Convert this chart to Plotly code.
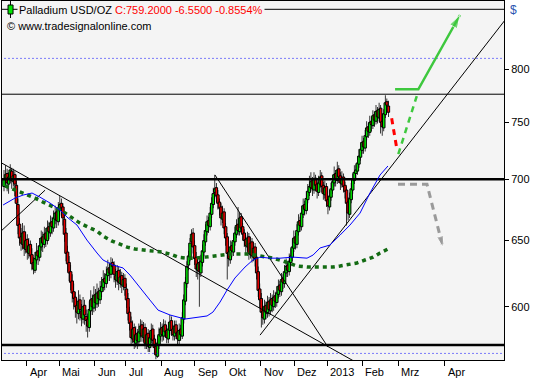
import math
import plotly.graph_objects as go

# ---------------- data ----------------
open_ = [
    694, 701, 705, 696, 701, 707, 698, 704, 695, 679,
    663, 653, 647, 657, 643, 651, 640, 647, 639, 633,
    627, 635, 642, 637, 645, 653, 647, 656, 650, 661,
    656, 665, 660, 667, 673, 665, 674, 680, 677, 667,
    656, 641, 633, 626, 619, 611, 607, 601, 595, 605,
    597, 591, 601, 593, 591, 585, 597, 606, 599, 609,
    602, 611, 605, 611, 614, 621, 617, 623, 629, 624,
    633, 631, 623, 619, 627, 617, 623, 615, 621, 613,
    606, 596, 589, 577, 585, 574, 581, 575, 581, 587,
    578, 585, 573, 581, 571, 577, 584, 577, 572, 565,
    573, 579, 585, 579, 587, 583, 577, 583, 590, 584,
    579, 587, 582, 576, 584, 579, 591, 604, 617, 631,
    637, 649, 656, 646, 637, 627, 633, 625, 633, 641,
    649, 657, 666, 661, 671, 679, 689, 693, 687, 681,
    677, 667, 673, 661, 653, 641, 635, 646, 641, 649,
    655, 663, 657, 669, 661, 656, 651, 645, 653, 639,
    649, 637, 645, 637, 626, 613, 606, 597, 591, 601,
    595, 604, 597, 606, 600, 608, 603, 609, 616, 611,
    621, 617, 625, 631, 626, 633, 637, 644, 653, 647,
    657, 666, 661, 671, 679, 674, 683, 689, 693, 699,
    691, 701, 696, 689, 696, 703, 695, 687, 694, 683,
    677, 685, 691, 697, 705, 699, 709, 703, 696, 702,
    695, 691, 681, 671, 683, 691, 699, 705, 707, 713,
    719, 725, 733, 727, 737, 746, 741, 751, 747, 757,
    751, 761, 754, 763, 751, 745, 757, 769, 765,
]
high_ = [
    708, 712, 709, 706, 713, 710, 709, 707, 699, 684,
    668, 660, 664, 662, 657, 655, 652, 650, 644, 637,
    641, 648, 646, 652, 658, 657, 661, 660, 666, 665,
    670, 669, 674, 678, 677, 681, 686, 684, 680, 671,
    660, 646, 638, 631, 624, 617, 611, 606, 612, 609,
    602, 607, 605, 598, 595, 604, 612, 609, 615, 613,
    617, 614, 619, 622, 627, 625, 630, 635, 633, 637,
    636, 634, 628, 631, 630, 628, 626, 625, 624, 617,
    610, 600, 593, 590, 588, 586, 584, 588, 591, 590,
    589, 588, 585, 584, 583, 588, 587, 580, 575, 579,
    585, 589, 588, 591, 590, 586, 589, 594, 593, 587,
    590, 590, 585, 588, 587, 596, 609, 622, 634, 642,
    652, 659, 660, 650, 641, 637, 636, 639, 647, 655,
    663, 670, 669, 677, 685, 693, 704, 697, 691, 684,
    680, 678, 676, 664, 656, 645, 650, 649, 655, 661,
    667, 677, 672, 672, 664, 659, 654, 657, 656, 653,
    652, 649, 648, 640, 630, 617, 610, 601, 605, 604,
    608, 607, 610, 609, 612, 611, 615, 620, 619, 625,
    624, 631, 636, 634, 640, 644, 651, 658, 656, 663,
    671, 669, 678, 684, 682, 690, 696, 703, 706, 702,
    706, 704, 699, 703, 708, 706, 698, 699, 697, 686,
    691, 697, 704, 711, 708, 715, 712, 706, 707, 705,
    698, 694, 685, 689, 697, 705, 712, 713, 720, 726,
    732, 738, 736, 743, 751, 749, 756, 755, 761, 760,
    766, 764, 768, 766, 755, 762, 775, 772, 770,
]
low_ = [
    690, 695, 690, 688, 697, 692, 694, 686, 675, 655,
    646, 642, 643, 638, 640, 635, 636, 632, 627, 624,
    625, 632, 631, 634, 642, 641, 644, 645, 647, 651,
    653, 655, 657, 663, 660, 662, 670, 669, 662, 649,
    634, 626, 619, 612, 603, 598, 592, 588, 591, 590,
    586, 588, 587, 582, 578, 582, 594, 594, 596, 597,
    599, 600, 602, 607, 611, 612, 614, 619, 619, 621,
    624, 618, 614, 616, 612, 614, 610, 612, 608, 599,
    590, 583, 573, 574, 570, 571, 570, 572, 578, 575,
    575, 570, 570, 568, 568, 574, 572, 567, 563, 564,
    570, 576, 575, 576, 578, 574, 574, 580, 579, 576,
    576, 577, 573, 573, 576, 577, 588, 601, 614, 627,
    634, 645, 640, 631, 622, 620, 600, 622, 630, 638,
    646, 654, 656, 658, 668, 676, 684, 681, 675, 670,
    662, 664, 655, 646, 620, 630, 632, 637, 638, 646,
    652, 654, 654, 656, 650, 645, 640, 642, 635, 636,
    633, 634, 630, 620, 607, 599, 585, 587, 588, 591,
    592, 593, 594, 596, 597, 599, 600, 606, 607, 608,
    613, 614, 622, 622, 623, 630, 634, 641, 643, 644,
    654, 657, 658, 668, 670, 671, 680, 686, 690, 686,
    688, 690, 684, 686, 693, 689, 683, 684, 677, 671,
    674, 682, 688, 694, 694, 696, 697, 691, 693, 689,
    684, 662, 666, 668, 680, 688, 696, 700, 704, 710,
    716, 722, 722, 724, 734, 736, 738, 742, 744, 746,
    748, 749, 751, 740, 738, 742, 754, 760, 755,
]
close_ = [
    700, 704, 697, 702, 708, 699, 703, 696, 680, 662,
    652, 648, 656, 644, 650, 641, 646, 638, 632, 628,
    636, 641, 638, 646, 652, 648, 655, 651, 660, 657,
    664, 661, 668, 672, 666, 675, 679, 676, 668, 655,
    640, 632, 625, 618, 610, 606, 600, 596, 604, 598,
    592, 600, 594, 590, 586, 598, 605, 600, 608, 603,
    610, 606, 612, 615, 620, 618, 624, 628, 625, 632,
    630, 624, 620, 626, 618, 622, 616, 620, 614, 605,
    595, 588, 578, 584, 575, 580, 576, 582, 586, 579,
    584, 574, 580, 572, 578, 583, 576, 571, 566, 574,
    580, 584, 580, 586, 582, 578, 584, 589, 583, 580,
    586, 581, 577, 583, 580, 592, 605, 618, 630, 638,
    648, 655, 645, 636, 628, 632, 626, 634, 642, 650,
    658, 665, 662, 672, 680, 688, 692, 686, 680, 676,
    668, 672, 660, 652, 640, 636, 645, 642, 650, 656,
    662, 658, 668, 660, 655, 650, 646, 652, 640, 648,
    638, 644, 636, 625, 612, 605, 596, 592, 600, 596,
    603, 598, 605, 601, 607, 604, 610, 615, 612, 620,
    618, 626, 630, 627, 634, 638, 645, 652, 648, 658,
    665, 662, 672, 678, 675, 684, 690, 694, 698, 692,
    700, 695, 690, 697, 702, 694, 688, 693, 682, 678,
    686, 692, 698, 704, 700, 708, 702, 697, 701, 694,
    690, 680, 672, 684, 692, 700, 706, 708, 714, 720,
    726, 732, 728, 738, 745, 742, 750, 748, 756, 752,
    760, 755, 762, 750, 746, 758, 768, 765.75, 759.2,
]

# month ticks (positions in trading-day bar index)
tick_labels = ["Apr", "Mai", "Jun", "Jul", "Aug", "Sep", "Okt", "Nov", "Dez",
               "2013", "Feb", "Mrz", "Apr"]
tick_pos = [14.8, 35.5, 58.7, 78.7, 101.3, 123.2, 143.2, 165.8, 187.1,
            208.4, 231.0, 254.2, 284.5]
y_ticks = [600, 650, 700, 750, 800]

# moving averages
ma_fast_x = [-0.6, 7.1, 12.3, 18.1, 23.2, 29.7, 36.1, 40.6, 47.1, 53.5,
             60.0, 63.9, 70.3, 76.8, 81.3, 87.7, 94.2, 99.4, 107.1, 116.8,
             124.5, 131.0, 134.8, 139.4, 143.9, 149.0, 155.5, 160.6, 165.2, 171.6,
             178.1, 186.5, 195.5, 199.4, 203.9, 210.3, 216.8, 223.2, 229.7, 236.1,
             242.6, 247.7]
ma_fast_y = [678.6, 684.3, 686.8, 688.5, 685.1, 680.2, 674.5, 668.8, 662.3, 650.4,
             640.3, 634.9, 631.0, 628.8, 623.4, 613.7, 604.8, 597.5, 594.0, 591.1,
             592.5, 593.3, 596.1, 603.4, 612.2, 621.2, 629.5, 634.9, 637.1, 636.3,
             636.3, 637.1, 636.3, 638.7, 644.2, 646.5, 654.3, 662.3, 672.0, 688.5,
             703.7, 711.4]
ma_slow_x = [0.6, 3.9, 14.8, 20.0, 25.2, 29.7, 34.8, 39.4, 44.5, 49.0,
             54.2, 60.0, 63.9, 69.7, 74.8, 79.4, 84.5, 91.0, 96.1, 101.9,
             107.1, 112.3, 118.1, 123.2, 129.7, 134.8, 140.6, 145.8, 151.0, 156.8,
             161.9, 167.1, 173.5, 180.0, 189.0, 195.5, 205.8, 212.3, 216.8, 223.2,
             227.7, 232.9, 238.1, 242.6, 247.7]
ma_slow_y = [694.4, 692.7, 687.7, 684.3, 681.0, 678.6, 675.3, 672.0, 667.9, 663.9,
             660.7, 657.5, 653.6, 649.6, 647.2, 644.9, 643.4, 642.6, 641.8, 641.0,
             639.5, 637.1, 636.3, 636.3, 637.1, 637.9, 638.7, 639.5, 639.5, 639.5,
             638.7, 637.9, 636.3, 634.1, 630.3, 629.5, 629.5, 629.5, 630.3, 631.8,
             632.6, 634.9, 637.1, 640.3, 643.4]

# horizontal levels
levels_thick = [700, 572.8]
levels_thin = [776, 860]
levels_dotted = [810.4, 567]

# trend lines (bar index, price)
tl_desc_x, tl_desc_y = [-2.6, 255.5], [714.8, 544.4]
tl_short_x, tl_short_y = [-2.6, 26.5], [656.7, 690.9]
tl_sep_x, tl_sep_y = [136.1, 209.0], [703.7, 571.4]
tl_up_x, tl_up_y = [165.2, 332.9], [579.7, 868.9]

# projected paths
red_x, red_y = [250.1, 253.4], [753.7, 726.8]
gdash_x, gdash_y = [254.4, 266.3], [721.8, 774.3]
green_x, green_y = [252.3, 267.3, 294.2], [780.6, 780.6, 854.1]
gray_x, gray_y = [254.2, 272.9, 283.2], [695.8, 695.8, 644.7]

X_RANGE = [-1.29, 322.58]
Y_RANGE = [562.5, 868.7]

# ---------------- figure ----------------
n = len(close_)
idx = list(range(n))
fig = go.Figure()

# wicks
fig.add_trace(go.Bar(
    x=idx, base=low_, y=[h - l for h, l in zip(high_, low_)],
    width=0.5, marker=dict(color="black", line=dict(width=0)),
    hoverinfo="skip"))
# bodies
fig.add_trace(go.Bar(
    x=idx, base=open_, y=[c - o for o, c in zip(open_, close_)],
    width=1.6,
    marker=dict(color=["#00e600" if c >= o else "#ee0000" for o, c in zip(open_, close_)],
                line=dict(color="black", width=1)),
    hoverinfo="skip"))

xs_full = [-10, 340]
for v in levels_thick:
    fig.add_trace(go.Scatter(x=xs_full, y=[v, v], mode="lines",
                             line=dict(color="black", width=2.5), hoverinfo="skip"))
for v in levels_thin:
    fig.add_trace(go.Scatter(x=xs_full, y=[v, v], mode="lines",
                             line=dict(color="black", width=1), hoverinfo="skip"))
for v in levels_dotted:
    fig.add_trace(go.Scatter(x=xs_full, y=[v, v], mode="lines",
                             line=dict(color="#0000ff", width=1, dash="1px,3px"),
                             hoverinfo="skip"))

for tx, ty in [(tl_desc_x, tl_desc_y), (tl_short_x, tl_short_y),
               (tl_sep_x, tl_sep_y), (tl_up_x, tl_up_y)]:
    fig.add_trace(go.Scatter(x=tx, y=ty, mode="lines",
                             line=dict(color="black", width=1), hoverinfo="skip"))

fig.add_trace(go.Scatter(x=ma_slow_x, y=ma_slow_y, mode="lines",
                         line=dict(color="#136b13", width=3.5, dash="4px,4px"),
                         hoverinfo="skip"))
fig.add_trace(go.Scatter(x=ma_fast_x, y=ma_fast_y, mode="lines",
                         line=dict(color="#0000ff", width=1), hoverinfo="skip"))

fig.add_trace(go.Scatter(x=red_x, y=red_y, mode="lines",
                         line=dict(color="#ff0000", width=3, dash="6px,5px"),
                         hoverinfo="skip"))
fig.add_trace(go.Scatter(x=gdash_x, y=gdash_y, mode="lines",
                         line=dict(color="#3ec83e", width=2.5, dash="6px,5px"),
                         hoverinfo="skip"))
fig.add_trace(go.Scatter(x=green_x, y=green_y, mode="lines+markers",
                         line=dict(color="#3ec83e", width=2.5),
                         marker=dict(symbol="arrow", angleref="previous",
                                     size=[0, 0, 14], color="#3ec83e"),
                         hoverinfo="skip"))
fig.add_trace(go.Scatter(x=gray_x, y=gray_y, mode="lines+markers",
                         line=dict(color="#9a9a9a", width=3, dash="7px,5px"),
                         marker=dict(symbol="arrow", angleref="previous",
                                     size=[0, 0, 12], color="#9a9a9a"),
                         hoverinfo="skip"))

FONT = "Liberation Sans, Arial, sans-serif"

annotations = []
for lab, pos in zip(tick_labels, tick_pos):
    annotations.append(dict(x=pos, xref="x", y=-0.034, yref="paper", text=lab,
                            showarrow=False, xanchor="left", yanchor="middle",
                            xshift=1, font=dict(family=FONT, size=11, color="black")))

last, prev = close_[-1], close_[-2]
chg = last - prev
header = ("Palladium USD/OZ <span style='color:#ff0000'>C:%.4f %.4f %.4f%%</span>"
          % (last, chg, chg / prev * 100))
annotations.append(dict(x=0.0299, xref="paper", y=0.975, yref="paper", text=header,
                        showarrow=False, xanchor="left", yanchor="middle",
                        bgcolor="#f4f4f4", borderpad=1,
                        font=dict(family=FONT, size=11, color="black")))
annotations.append(dict(x=0.006, xref="paper", y=0.930, yref="paper",
                        text="© www.tradesignalonline.com",
                        showarrow=False, xanchor="left", yanchor="middle",
                        font=dict(family=FONT, size=11, color="black")))
annotations.append(dict(x=1.008, xref="paper", y=0.975, yref="paper", text="$",
                        showarrow=False, xanchor="left", yanchor="middle",
                        font=dict(family=FONT, size=12, color="#2a55b0")))

shapes = [
    dict(type="line", xref="paper", yref="paper", x0=0.0169, x1=0.0169,
         y0=(360 - 18) / 359, y1=(360 - 1) / 359, line=dict(color="black", width=1)),
    dict(type="rect", xref="paper", yref="paper", x0=0.012, x1=0.022,
         y0=(360 - 14) / 359, y1=(360 - 5) / 359, fillcolor="#00e600",
         line=dict(color="black", width=1)),
]

fig.update_layout(
    width=540, height=380,
    margin=dict(l=2, r=36, t=1, b=20, pad=0),
    paper_bgcolor="white", plot_bgcolor="#f4f4f4",
    showlegend=False, barmode="overlay", hovermode=False,
    font=dict(family=FONT, size=11, color="black"),
    annotations=annotations, shapes=shapes,
    xaxis=dict(range=X_RANGE, showgrid=False, zeroline=False,
               showline=True, mirror=True, linecolor="black", linewidth=1,
               ticks="outside", ticklen=5, tickcolor="black", tickwidth=1,
               tickvals=tick_pos, showticklabels=False, automargin=False),
    yaxis=dict(type="log", range=[math.log10(Y_RANGE[0]), math.log10(Y_RANGE[1])],
               side="right", showgrid=False, zeroline=False,
               showline=True, mirror=True, linecolor="black", linewidth=1,
               ticks="outside", ticklen=4, tickcolor="black", tickwidth=1,
               tickvals=y_ticks, ticktext=[str(v) for v in y_ticks],
               tickfont=dict(family=FONT, size=11, color="black"),
               automargin=False),
)

fig.write_html("out.html",
               config={"displayModeBar": False, "staticPlot": True},
               post_script="document.body.style.margin='0';document.body.style.overflow='hidden';")
